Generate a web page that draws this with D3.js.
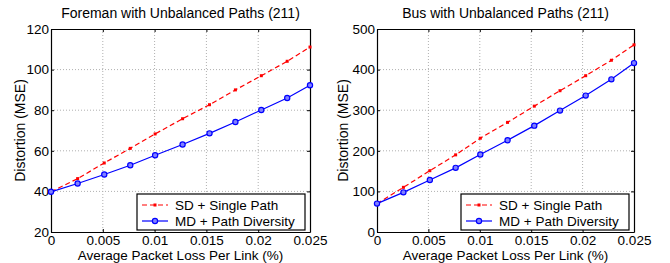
<!DOCTYPE html>
<html>
<head>
<meta charset="utf-8">
<script src="https://cdn.jsdelivr.net/npm/d3@7"></script>
<style>
  body { margin: 0; background: #fff; }
  svg { font-family: "Liberation Sans", Arial, sans-serif; }
  .grid line { stroke: #b0b0b0; stroke-dasharray: 1,2; stroke-width: 1; }
</style>
</head>
<body>
<div id="holder"></div>
<script>
// packet loss per link, shared by both panels
const lossRates = [0, 0.00257, 0.00514, 0.00765, 0.01005, 0.0127, 0.0153, 0.0178, 0.0203, 0.0228, 0.025];

// Foreman panel
const foremanSD = [39.8, 46.3, 54.0, 61.2, 68.3, 75.8, 82.7, 90.0, 97.0, 104.1, 111.1];
const foremanMD = [39.8, 43.9, 48.3, 52.9, 57.8, 63.1, 68.6, 74.2, 80.1, 86.0, 92.3];

// Bus panel
const busSD = [70, 110, 151, 190, 231, 270, 310, 348, 385, 423, 461];
const busMD = [70, 97.7, 128, 158, 191, 226, 262, 299, 336, 376, 416];

const xTicks = [0, 0.005, 0.01, 0.015, 0.02, 0.025];
const xTickLabels = ["0", "0.005", "0.01", "0.015", "0.02", "0.025"];
const legendLabels = ["SD + Single Path", "MD + Path Diversity"];
const xLabel = "Average Packet Loss Per Link (%)";
const yLabel = "Distortion (MSE)";

const panels = [
    {title: "Foreman with Unbalanced Paths (211)", sd: foremanSD, md: foremanMD,
     yDomain: [20, 120], yTicks: [20, 40, 60, 80, 100, 120], left: 51, right: 310, yLabelX: 20},
    {title: "Bus with Unbalanced Paths (211)", sd: busSD, md: busMD,
     yDomain: [0, 500], yTicks: [0, 100, 200, 300, 400, 500], left: 377, right: 634, yLabelX: 343}
];

const W = 670, H = 263;
const plotTop = 29, plotBottom = 232;

const svg = d3.select("#holder").append("svg")
    .attr("width", W)
    .attr("height", H);

panels.forEach(p => {
    let xScale = d3.scaleLinear().domain([0, 0.025]).range([p.left, p.right]);
    let yScale = d3.scaleLinear().domain(p.yDomain).range([plotBottom, plotTop]);
    let g = svg.append("g");

    // dotted grid
    let grid = g.append("g").attr("class", "grid");
    grid.selectAll(".gx").data(xTicks.slice(1, -1)).join("line")
        .attr("x1", d => xScale(d)).attr("x2", d => xScale(d))
        .attr("y1", plotTop).attr("y2", plotBottom);
    grid.selectAll(".gy").data(p.yTicks.slice(1, -1)).join("line")
        .attr("x1", p.left).attr("x2", p.right)
        .attr("y1", d => yScale(d)).attr("y2", d => yScale(d));

    // axes, matlab style inward ticks
    let xAxisB = d3.axisBottom(xScale).tickValues(xTicks).tickSizeInner(-3).tickSizeOuter(0)
        .tickFormat((d, i) => xTickLabels[i]).tickPadding(3);
    let xAxisT = d3.axisTop(xScale).tickValues(xTicks).tickSizeInner(-3).tickSizeOuter(0).tickFormat("");
    let yAxisL = d3.axisLeft(yScale).tickValues(p.yTicks).tickSizeInner(-3).tickSizeOuter(0).tickPadding(2);
    let yAxisR = d3.axisRight(yScale).tickValues(p.yTicks).tickSizeInner(-3).tickSizeOuter(0).tickFormat("");

    [[xAxisB, `translate(0,${plotBottom})`], [xAxisT, `translate(0,${plotTop})`],
     [yAxisL, `translate(${p.left},0)`], [yAxisR, `translate(${p.right},0)`]].forEach(([ax, tr]) => {
        let a = g.append("g").attr("transform", tr).call(ax);
        a.selectAll("path").attr("stroke", "#000").attr("stroke-width", 1.2);
        a.selectAll("line").attr("stroke", "#000");
        a.selectAll("text").attr("font-size", 13.5).attr("fill", "#000")
            .attr("font-family", "Liberation Sans, Arial, sans-serif");
    });

    // title and labels
    g.append("text")
        .attr("x", (p.left + p.right) / 2).attr("y", 18)
        .attr("text-anchor", "middle").attr("font-size", 14)
        .text(p.title);
    g.append("text")
        .attr("x", (p.left + p.right) / 2).attr("y", 260)
        .attr("text-anchor", "middle").attr("font-size", 13.5)
        .text(xLabel);
    g.append("text")
        .attr("transform", `translate(${p.yLabelX + 5},${(plotTop + plotBottom) / 2}) rotate(-90)`)
        .attr("text-anchor", "middle").attr("font-size", 14)
        .text(yLabel);

    let line = d3.line()
        .x((d, i) => xScale(lossRates[i]))
        .y(d => yScale(d));

    // SD: red dashed with dot markers
    g.append("path").attr("d", line(p.sd))
        .attr("fill", "none").attr("stroke", "#ff0000").attr("stroke-width", 1.2)
        .attr("stroke-dasharray", "5,3");
    g.selectAll(".sdm").data(p.sd).join("rect")
        .attr("x", (d, i) => xScale(lossRates[i]) - 1.5)
        .attr("y", d => yScale(d) - 1.5)
        .attr("width", 3).attr("height", 3).attr("fill", "#ff0000");

    // MD: blue solid with circles
    g.append("path").attr("d", line(p.md))
        .attr("fill", "none").attr("stroke", "#0000ff").attr("stroke-width", 1.2);
    g.selectAll(".mdm").data(p.md).join("circle")
        .attr("cx", (d, i) => xScale(lossRates[i]))
        .attr("cy", d => yScale(d))
        .attr("r", 2.6).attr("fill", "#8080ff").attr("stroke", "#0000ff").attr("stroke-width", 1.2);

    // legend
    let lx = p.right - 173, ly = 194, lw = 168, lh = 36;
    let leg = g.append("g");
    leg.append("rect").attr("x", lx).attr("y", ly).attr("width", lw).attr("height", lh)
        .attr("fill", "#fff").attr("stroke", "#000").attr("stroke-width", 1.2);
    [0, 1].forEach(i => {
        let yy = ly + 11 + i * 16;
        let s = leg.append("line").attr("x1", lx + 5).attr("x2", lx + 31).attr("y1", yy).attr("y2", yy)
            .attr("stroke", i ? "#0000ff" : "#ff0000").attr("stroke-width", 1.2);
        if (!i) {
            s.attr("stroke-dasharray", "5,3");
            leg.append("rect").attr("x", lx + 16.5).attr("y", yy - 1.5).attr("width", 3).attr("height", 3).attr("fill", "#ff0000");
        } else {
            leg.append("circle").attr("cx", lx + 18).attr("cy", yy).attr("r", 2.6)
                .attr("fill", "#8080ff").attr("stroke", "#0000ff").attr("stroke-width", 1.2);
        }
        leg.append("text").attr("x", lx + 38).attr("y", yy + 5)
            .attr("font-size", 13.5).text(legendLabels[i]);
    });
});
</script>
</body>
</html>
